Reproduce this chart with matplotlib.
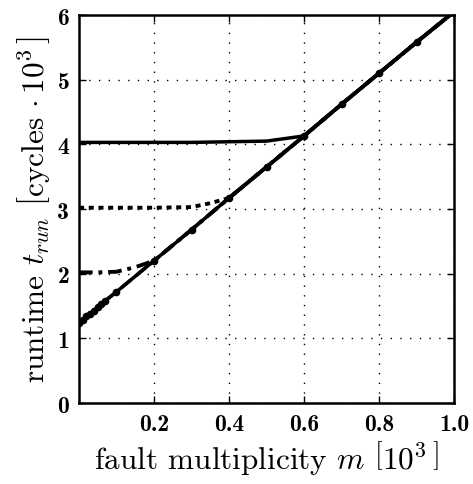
import matplotlib
matplotlib.use("Agg")
import matplotlib.pyplot as plt

plt.rcParams["mathtext.fontset"] = "cm"
plt.rcParams["font.family"] = "serif"
plt.rcParams["font.serif"] = ["cmr10", "DejaVu Serif"]
plt.rcParams["axes.unicode_minus"] = False

# fault multiplicity m [10^3] and runtime [cycles * 10^3]
m_base = [0.0, 0.01, 0.02, 0.03, 0.04, 0.05, 0.06, 0.07, 0.1, 0.2, 0.3, 0.4, 0.5, 0.6, 0.7, 0.8, 0.9, 1.0]
t_base = [1.24, 1.29, 1.34, 1.38, 1.43, 1.48, 1.53, 1.58, 1.72, 2.2, 2.68, 3.17, 3.65, 4.13, 4.62, 5.1, 5.58, 6.05]

m_2k = [0.0, 0.05, 0.1, 0.15, 0.2, 0.3, 0.4, 0.5, 0.6, 0.7, 0.8, 0.9, 1.0]
t_2k = [2.02, 2.02, 2.03, 2.1, 2.2, 2.68, 3.17, 3.65, 4.13, 4.62, 5.1, 5.58, 6.05]

m_3k = [0.0, 0.1, 0.2, 0.3, 0.35, 0.4, 0.5, 0.6, 0.7, 0.8, 0.9, 1.0]
t_3k = [3.02, 3.02, 3.02, 3.03, 3.09, 3.17, 3.65, 4.13, 4.62, 5.1, 5.58, 6.05]

m_4k = [0.0, 0.1, 0.2, 0.3, 0.4, 0.5, 0.6, 0.7, 0.8, 0.9, 1.0]
t_4k = [4.03, 4.03, 4.03, 4.03, 4.04, 4.05, 4.13, 4.62, 5.1, 5.58, 6.05]

x_ticks = [0.2, 0.4, 0.6, 0.8, 1.0]
x_labels = ["0.2", "0.4", "0.6", "0.8", "1.0"]
y_ticks = [0, 1, 2, 3, 4, 5, 6]
y_labels = ["0", "1", "2", "3", "4", "5", "6"]

fig = plt.figure(figsize=(4.73, 4.85), dpi=100)
ax = fig.add_axes([0.167, 0.167, 0.793, 0.8])

ax.plot(m_4k, t_4k, color="black", linestyle="-", linewidth=2.5)
ax.plot(m_3k, t_3k, color="black", linestyle=(0, (1.3, 1.2)), linewidth=2.8)
ax.plot(m_2k, t_2k, color="black", linestyle=(0, (3.5, 1.5, 1, 1.5)), linewidth=2.8)
ax.plot(m_base, t_base, color="black", linestyle="--", linewidth=2.5)
ax.plot(m_base, t_base, color="black", linestyle="-", linewidth=2.5,
        marker="o", markersize=4.5)

ax.set_xlim(0, 1.0)
ax.set_ylim(0, 6)
ax.set_xticks(x_ticks)
ax.set_xticklabels(x_labels, fontfamily="cmb10", fontsize=17)
ax.set_yticks(y_ticks)
ax.set_yticklabels(y_labels, fontfamily="cmb10", fontsize=17)
ax.tick_params(direction="in", length=5, width=1, top=True, right=True, pad=7)
ax.grid(True, color="black", linestyle=(0, (1, 6)), linewidth=1.0)
for s in ax.spines.values():
    s.set_linewidth(1.8)

ax.set_xlabel(r"fault multiplicity $m$ $\left[10^3\,\right]$", fontsize=22.5, labelpad=2)
ax.set_ylabel(r"runtime $t_{run}$ $\left[\mathrm{cycles}\,\cdot 10^3\,\right]$",
              fontsize=22.5, labelpad=4)

fig.savefig("out.png", dpi=100)
